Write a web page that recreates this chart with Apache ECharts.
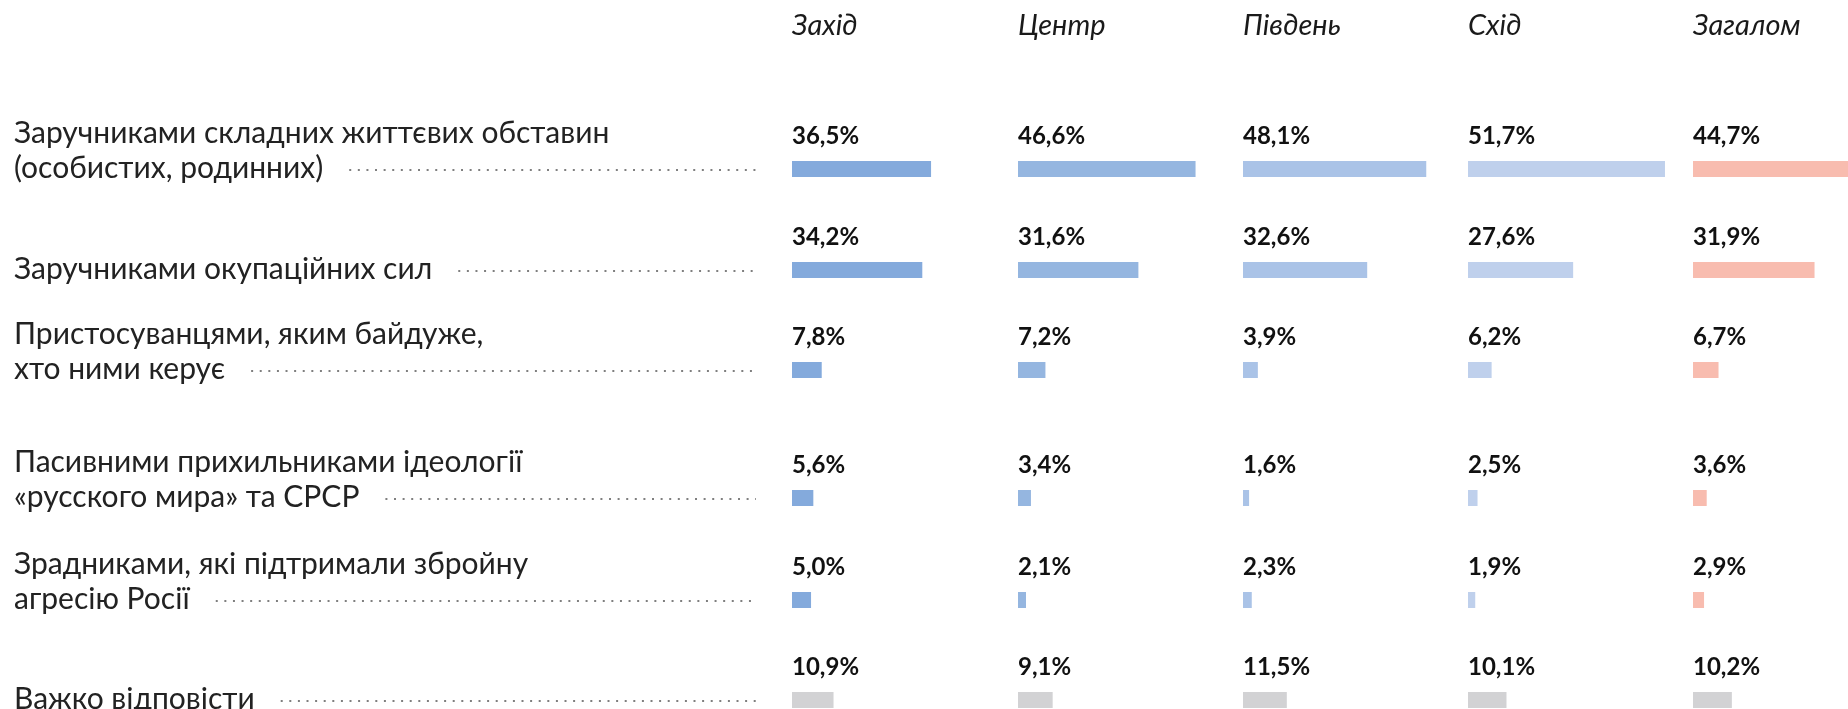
<!DOCTYPE html>
<html>
<head>
<meta charset="utf-8">
<script src="https://cdn.jsdelivr.net/npm/echarts@6/dist/echarts.min.js"></script>
<style>
  html, body { margin: 0; padding: 0; background: #fff; }
  #chart { width: 1848px; height: 709px; }
</style>
</head>
<body>
<div id="chart"></div>
<script>
// column headers (regions) and row answers
var regions = ['Захід', 'Центр', 'Південь', 'Схід', 'Загалом'];
var answers = [
  'Заручниками складних життєвих обставин\n(особистих, родинних)',
  'Заручниками окупаційних сил',
  'Пристосуванцями, яким байдуже,\nхто ними керує',
  'Пасивними прихильниками ідеології\n«русского мира» та СРСР',
  'Зрадниками, які підтримали збройну\nагресію Росії',
  'Важко відповісти'
];
// % values, one array per region, same order as answers
var zakhid  = [36.5, 34.2, 7.8, 5.6, 5.0, 10.9];
var tsentr  = [46.6, 31.6, 7.2, 3.4, 2.1, 9.1];
var pivden  = [48.1, 32.6, 3.9, 1.6, 2.3, 11.5];
var skhid   = [51.7, 27.6, 6.2, 2.5, 1.9, 10.1];
var zahalom = [44.7, 31.9, 6.7, 3.6, 2.9, 10.2];
var values = [zakhid, tsentr, pivden, skhid, zahalom];

// layout (pixels)
var chartWidth = 1848;
var colLeft = [792, 1018, 1243, 1468, 1693];
var rowMid = [169, 270, 370, 498, 600, 700];
var pxPerPct = 3.81;
var colColor = ['#84aadc', '#95b6e0', '#aac3e7', '#bfd0ec', '#f8bcaf'];
var otherColor = '#d2d2d4';
var font = 'Lato, "Noto Sans", sans-serif';

var chart = echarts.init(document.getElementById('chart'));

var grids = [], xAxes = [], yAxes = [], series = [];
for (var r = 0; r < answers.length; r++) {
  for (var c = 0; c < regions.length; c++) {
    var i = grids.length;
    // last column runs off the page, keep the same scale and let it clip
    var w = Math.min(210, chartWidth - colLeft[c]);
    grids.push({ left: colLeft[c], top: rowMid[r] - 8, width: w, height: 16 });
    xAxes.push({ type: 'value', gridIndex: i, min: 0, max: w / pxPerPct, show: false });
    yAxes.push({ type: 'category', gridIndex: i, data: [answers[r]], show: false });
    series.push({
      type: 'bar',
      xAxisIndex: i,
      yAxisIndex: i,
      barWidth: 16,
      silent: true,
      itemStyle: { color: r == answers.length - 1 ? otherColor : colColor[c] },
      label: {
        show: true,
        position: [0, -12],
        verticalAlign: 'bottom',
        align: 'left',
        fontFamily: font,
        fontWeight: 'bold',
        fontSize: 24,
        lineHeight: 26,
        color: '#111',
        formatter: function (p) {
          return p.value.toFixed(1).replace('.', ',') + '%';
        }
      },
      data: [values[c][r]]
    });
  }
}

var titles = regions.map(function (name, c) {
  return {
    text: name,
    left: colLeft[c],
    top: 11,
    padding: 0,
    textStyle: { fontFamily: font, fontStyle: 'italic', fontWeight: 'normal', fontSize: 29, color: '#1a1a1a' }
  };
});

chart.setOption({
  backgroundColor: '#fff',
  animation: false,
  title: titles,
  grid: grids,
  xAxis: xAxes,
  yAxis: yAxes,
  series: series
});

// row labels + dotted leaders, placed at the category centre of each row
var graphics = [];
var labelFont = '30px ' + font;
for (var r = 0; r < answers.length; r++) {
  var y = chart.convertToPixel({ gridIndex: r * regions.length }, [0, 0])[1];
  var lines = answers[r].split('\n');
  var last = new echarts.graphic.Text({ style: { text: lines[lines.length - 1], font: labelFont } });
  var tw = last.getBoundingRect().width;
  graphics.push({
    type: 'text',
    left: 14,
    top: y + 16.5 - lines.length * 35,
    style: { text: answers[r], font: labelFont, fill: '#222', lineHeight: 35 }
  });
  graphics.push({
    type: 'line',
    shape: { x1: 14 + tw + 26, y1: y + 1, x2: 756, y2: y + 1 },
    style: { stroke: '#555', lineWidth: 1.3, lineDash: [2, 6.6] }
  });
}
chart.setOption({ graphic: graphics });

window.addEventListener('resize', function () {
  chart.resize();
});
</script>
</body>
</html>
